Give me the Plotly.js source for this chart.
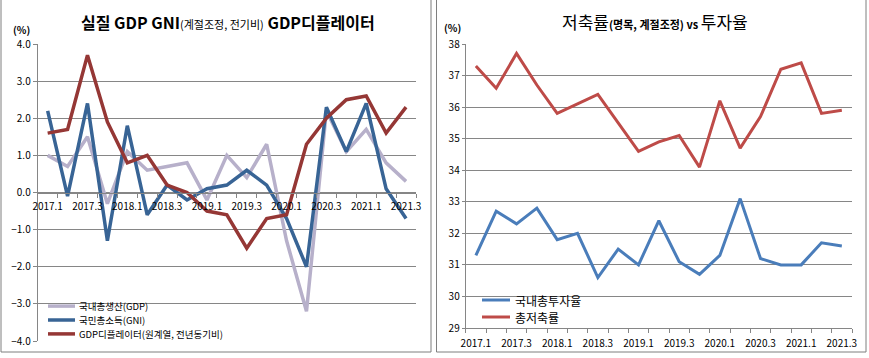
<!DOCTYPE html>
<html>
<head>
<meta charset="utf-8">
<script src="https://cdn.plot.ly/plotly-3.0.1.min.js"></script>
<style>html,body{margin:0;padding:0;background:#fff;}#chart{width:869px;height:358px;}</style>
</head>
<body>
<div id="chart"></div>
<script>
// ---- data ----
const quarters = ['2017.1','2017.2','2017.3','2017.4','2018.1','2018.2','2018.3','2018.4','2019.1','2019.2','2019.3','2019.4','2020.1','2020.2','2020.3','2020.4','2021.1','2021.2','2021.3'];
const tickLabels = ['2017.1','2017.3','2018.1','2018.3','2019.1','2019.3','2020.1','2020.3','2021.1','2021.3'];
const gdp = [1.0,0.7,1.5,-0.3,1.1,0.6,0.7,0.8,-0.2,1.0,0.4,1.3,-1.3,-3.2,2.2,1.1,1.7,0.8,0.3];
const gni = [2.2,-0.1,2.4,-1.3,1.8,-0.6,0.2,-0.2,0.1,0.2,0.6,0.2,-0.7,-2.0,2.3,1.1,2.4,0.1,-0.7];
const deflator = [1.6,1.7,3.7,1.9,0.8,1.0,0.2,0.0,-0.5,-0.6,-1.5,-0.7,-0.6,1.3,2.0,2.5,2.6,1.6,2.3];
const investRate = [31.3,32.7,32.3,32.8,31.8,32.0,30.6,31.5,31.0,32.4,31.1,30.7,31.3,33.1,31.2,31.0,31.0,31.7,31.6];
const savingRate = [37.3,36.6,37.7,36.7,35.8,36.1,36.4,35.5,34.6,34.9,35.1,34.1,36.2,34.7,35.7,37.2,37.4,35.8,35.9];
const leftNames = ['국내총생산(GDP)','국민총소득(GNI)','GDP디플레이터(원계열, 전년동기비)'];
const rightNames = ['국내총투자율','총저축률'];

// ---- helpers ----
const W = 869, H = 358;
const px = x => x / W;
const py = y => 1 - y / H;
const idx = quarters.map((q, i) => i);
const tickIdx = tickLabels.map(t => quarters.indexOf(t));
const bounds = [];
for (let i = 0; i <= quarters.length; i++) bounds.push(i - 0.5);

const FONT = '"Noto Sans CJK KR", "Noto Sans", sans-serif';
const GRID = '#868686';

const cLeft = ['#B7B0CA', '#386495', '#953735'];
const cRight = ['#4A7DBA', '#BE4B48'];

const ly0 = py(341), ly1 = py(44);
const traces = [
  {x: idx, y: gdp, name: leftNames[0], type: 'scatter', mode: 'lines', line: {color: cLeft[0], width: 3.5}, xaxis: 'x', yaxis: 'y', showlegend: false, hovertext: quarters},
  {x: idx, y: gni, name: leftNames[1], type: 'scatter', mode: 'lines', line: {color: cLeft[1], width: 3.5}, xaxis: 'x', yaxis: 'y', showlegend: false, hovertext: quarters},
  {x: idx, y: deflator, name: leftNames[2], type: 'scatter', mode: 'lines', line: {color: cLeft[2], width: 3.5}, xaxis: 'x', yaxis: 'y', showlegend: false, hovertext: quarters},
  {x: idx, y: investRate, name: rightNames[0], type: 'scatter', mode: 'lines', line: {color: cRight[0], width: 3}, xaxis: 'x2', yaxis: 'y2', showlegend: false, hovertext: quarters},
  {x: idx, y: savingRate, name: rightNames[1], type: 'scatter', mode: 'lines', line: {color: cRight[1], width: 3}, xaxis: 'x2', yaxis: 'y2', showlegend: false, hovertext: quarters}
];

const xCommon = {
  range: [-0.5, quarters.length - 0.5],
  tickmode: 'array', tickvals: tickIdx, ticktext: tickLabels,
  ticks: 'outside', ticklen: 4, tickcolor: 'rgba(0,0,0,0)',
  showgrid: false, zeroline: false,
  showline: true, linecolor: GRID, linewidth: 1,
  tickfont: {family: FONT, size: 10, color: '#000'},
  minor: {tickmode: 'array', tickvals: bounds, ticks: 'outside', ticklen: 4, tickcolor: GRID, tickwidth: 1, showgrid: false},
  fixedrange: true
};

const layout = {
  width: W, height: H,
  margin: {l: 0, r: 0, t: 0, b: 0},
  paper_bgcolor: '#fff', plot_bgcolor: 'rgba(0,0,0,0)',
  showlegend: false,
  xaxis: Object.assign({}, xCommon, {domain: [px(37.7), px(416)], anchor: 'free', position: (ly0 + ly1) / 2}),
  yaxis: {
    domain: [ly0, ly1], range: [-4, 4], dtick: 1, tick0: 0, tickformat: '.1f',
    showgrid: true, gridcolor: GRID, gridwidth: 1, zeroline: false,
    showline: true, linecolor: GRID, linewidth: 1,
    ticks: 'outside', ticklen: 4, tickcolor: GRID,
    tickfont: {family: FONT, size: 10, color: '#000'}, fixedrange: true
  },
  xaxis2: Object.assign({}, xCommon, {domain: [px(465.7), px(852)], anchor: 'y2', ticklen: 6}),
  yaxis2: {
    domain: [py(328), py(44)], range: [29, 38], dtick: 1, tick0: 29,
    showgrid: true, gridcolor: GRID, gridwidth: 1, zeroline: false,
    showline: true, linecolor: GRID, linewidth: 1,
    ticks: 'outside', ticklen: 3, tickcolor: GRID,
    tickfont: {family: FONT, size: 10, color: '#000'}, anchor: 'x2', fixedrange: true
  },
  shapes: [
    {type: 'rect', xref: 'paper', yref: 'paper', x0: px(1), x1: px(431), y0: py(352), y1: py(-5), line: {color: '#7f7f7f', width: 1}},
    {type: 'rect', xref: 'paper', yref: 'paper', x0: px(436.5), x1: px(866), y0: py(352), y1: py(-5), line: {color: '#7f7f7f', width: 1}}
  ],
  annotations: [
    {xref: 'paper', yref: 'paper', x: px(228), y: py(22), xanchor: 'center', yanchor: 'middle', showarrow: false,
     text: '<b>실질 GDP GNI</b><span style="font-size:11px">(계절조정, 전기비)</span><b> GDP디플레이터</b>',
     font: {family: FONT, size: 16, color: '#000'}},
    {xref: 'paper', yref: 'paper', x: px(655), y: py(22), xanchor: 'center', yanchor: 'middle', showarrow: false,
     text: '저축률<b><span style="font-size:11px">(명목, 계절조정) vs </span></b>투자율',
     font: {family: FONT, size: 17, color: '#000'}},
    {xref: 'paper', yref: 'paper', x: px(21), y: py(29), xanchor: 'center', yanchor: 'middle', showarrow: false,
     text: '<b>(%)</b>', font: {family: FONT, size: 10, color: '#000'}},
    {xref: 'paper', yref: 'paper', x: px(452), y: py(27), xanchor: 'center', yanchor: 'middle', showarrow: false,
     text: '<b>(%)</b>', font: {family: FONT, size: 10, color: '#000'}}
  ]
};

// manual legends (line sample + label)
const legFont = 9.5;
const legGap = 13.9;
const legMid = 320;
const legL = {x0: 48, x1: 75, tx: 78};
leftNames.forEach((n, i) => {
  const yy = legMid + (i - 1) * legGap;
  layout.shapes.push({type: 'line', xref: 'paper', yref: 'paper', x0: px(legL.x0), x1: px(legL.x1), y0: py(yy), y1: py(yy), line: {color: cLeft[i], width: 3.5}});
  layout.annotations.push({xref: 'paper', yref: 'paper', x: px(legL.tx), y: py(yy), xanchor: 'left', yanchor: 'middle', align: 'left',
    showarrow: false, borderpad: 0, text: n, font: {family: FONT, size: legFont, color: '#000'}});
});

const legR = {x0: 482, x1: 510, tx: 513, ys: [300, 317]};
rightNames.forEach((n, i) => {
  layout.annotations.push({xref: 'paper', yref: 'paper', x: px(legR.tx), y: py(legR.ys[i]), xanchor: 'left', yanchor: 'middle', showarrow: false, text: n, font: {family: FONT, size: 12, color: '#000'}});
  layout.shapes.push({type: 'line', xref: 'paper', yref: 'paper', x0: px(legR.x0), x1: px(legR.x1), y0: py(legR.ys[i]), y1: py(legR.ys[i]), line: {color: cRight[i], width: 3}});
});

Plotly.newPlot('chart', traces, layout, {displayModeBar: false, staticPlot: true});
</script>
</body>
</html>
